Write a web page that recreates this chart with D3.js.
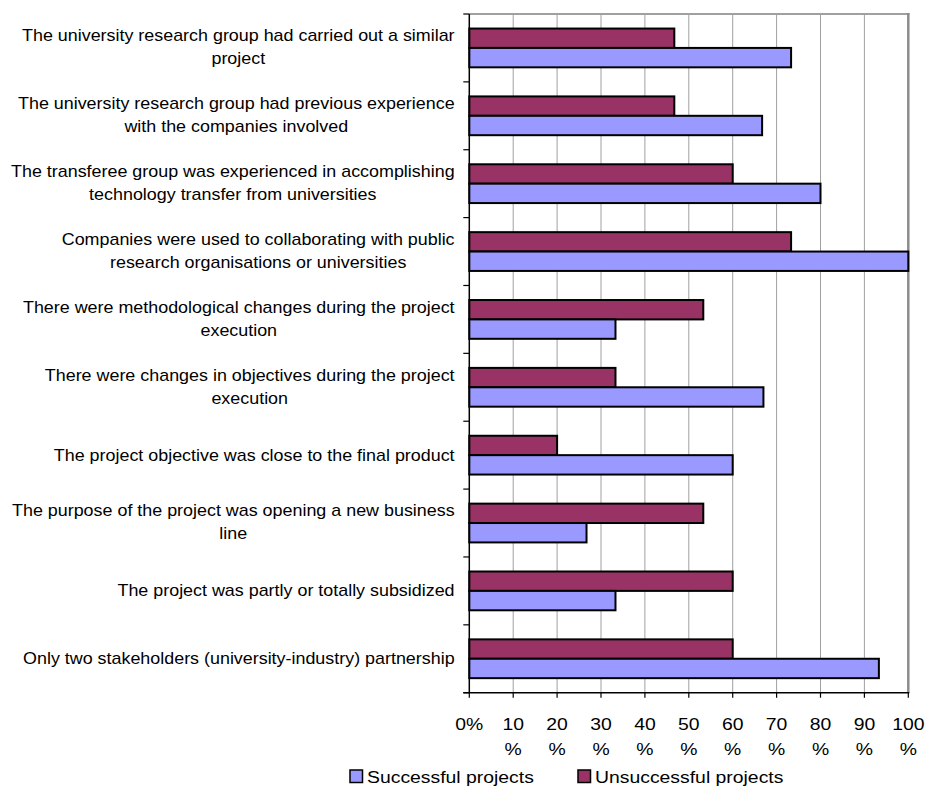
<!DOCTYPE html>
<html>
<head>
<meta charset="utf-8">
<script src="https://cdn.jsdelivr.net/npm/d3@7"></script>
<style>
  html, body { margin: 0; padding: 0; background: #ffffff; }
  svg { display: block; }
  text { font-family: "Liberation Sans", Arial, sans-serif; fill: #000; }
</style>
</head>
<body>
<svg id="chart" width="930" height="787"></svg>
<script>
// ---- data ----
const categories = [
  ["The university research group had carried out a similar", "project"],
  ["The university research group had previous experience", "with the companies involved"],
  ["The transferee group was experienced in accomplishing", "technology transfer from universities"],
  ["Companies were used to collaborating with public", "research organisations or universities"],
  ["There were methodological changes during the project", "execution"],
  ["There were changes in objectives during the project", "execution"],
  ["The project objective was close to the final product"],
  ["The purpose of the project was opening a new business", "line"],
  ["The project was partly or totally subsidized"],
  ["Only two stakeholders (university-industry) partnership"]
];
const unsuccessful = [46.7, 46.7, 60, 73.3, 53.3, 33.3, 20, 53.3, 60, 60];
const successful   = [73.3, 66.7, 80, 100, 33.3, 67, 60, 26.7, 33.3, 93.3];
const seriesNames = ["Unsuccessful projects", "Successful projects"];
const legendOrder = ["Successful projects", "Unsuccessful projects"];
const xTicks = [0, 10, 20, 30, 40, 50, 60, 70, 80, 90, 100];
const xTickLabels = [["0%"], ["10", "%"], ["20", "%"], ["30", "%"], ["40", "%"], ["50", "%"],
                     ["60", "%"], ["70", "%"], ["80", "%"], ["90", "%"], ["100", "%"]];

// ---- layout ----
const colors = { "Successful projects": "#9999ff", "Unsuccessful projects": "#993366" };
const plot = { left: 469.3, right: 908.3, top: 14, bottom: 692.7 };
const S = 1.14; // horizontal text stretch

const svg = d3.select("#chart");

const x = d3.scaleLinear().domain([0, 100]).range([plot.left, plot.right]);
const y = d3.scaleBand()
  .domain(d3.range(categories.length))
  .range([plot.top, plot.bottom])
  .paddingInner(1.5 / 3.5)
  .paddingOuter(0.75 / 3.5);
const ySub = d3.scaleBand().domain(seriesNames).range([0, y.bandwidth()]);

const rows = categories.map((c, i) => ({
  i, lines: c,
  values: [
    { name: "Unsuccessful projects", v: unsuccessful[i] },
    { name: "Successful projects", v: successful[i] }
  ]
}));

// gridlines
svg.append("g").selectAll("line")
  .data(xTicks.filter(t => t > 0 && t < 100))
  .join("line")
  .attr("x1", d => x(d)).attr("x2", d => x(d))
  .attr("y1", plot.top).attr("y2", plot.bottom)
  .attr("stroke", "#a0a0a0").attr("stroke-width", 1);

// top border & right border
svg.append("line")
  .attr("x1", plot.left).attr("x2", plot.right + 1.2)
  .attr("y1", plot.top).attr("y2", plot.top)
  .attr("stroke", "#a0a0a0").attr("stroke-width", 2);
svg.append("line")
  .attr("x1", x(100)).attr("x2", x(100))
  .attr("y1", plot.top - 1).attr("y2", plot.bottom)
  .attr("stroke", "#8c8c8c").attr("stroke-width", 2.5);

// bars
const step = y.step();
const groups = svg.append("g").selectAll("g")
  .data(rows).join("g")
  .attr("transform", d => `translate(0,${y(d.i)})`);
groups.selectAll("rect")
  .data(d => d.values).join("rect")
  .attr("x", x(0))
  .attr("y", d => ySub(d.name))
  .attr("width", d => x(d.v) - x(0))
  .attr("height", ySub.bandwidth())
  .attr("fill", d => colors[d.name])
  .attr("stroke", "#000").attr("stroke-width", 2);

// left axis line + ticks at group boundaries
svg.append("line")
  .attr("x1", plot.left).attr("x2", plot.left)
  .attr("y1", plot.top).attr("y2", plot.bottom)
  .attr("stroke", "#000").attr("stroke-width", 1.5);
svg.append("g").selectAll("line")
  .data(d3.range(categories.length + 1))
  .join("line")
  .attr("x1", plot.left - 6).attr("x2", plot.left)
  .attr("y1", i => plot.top + i * step).attr("y2", i => plot.top + i * step)
  .attr("stroke", "#000").attr("stroke-width", 1.2);

// bottom axis line + ticks
svg.append("line")
  .attr("x1", plot.left - 6).attr("x2", plot.right + 1)
  .attr("y1", plot.bottom).attr("y2", plot.bottom)
  .attr("stroke", "#000").attr("stroke-width", 1.5);
svg.append("g").selectAll("line")
  .data(xTicks).join("line")
  .attr("x1", d => x(d)).attr("x2", d => x(d))
  .attr("y1", plot.bottom).attr("y2", plot.bottom + 5)
  .attr("stroke", "#000").attr("stroke-width", 1.2);

// x tick labels
const xl = svg.append("g");
xTicks.forEach((t, i) => {
  xTickLabels[i].forEach((ln, k) => {
    xl.append("text")
      .attr("text-anchor", "middle")
      .attr("font-size", "17px")
      .attr("transform", `translate(${x(t)},${729.5 + k * 25.5}) scale(${S},1)`)
      .text(ln);
  });
});

// y category labels (block right-aligned, lines centered)
const labelRight = 454.5;
const yl = svg.append("g");
rows.forEach(r => {
  const gc = plot.top + (r.i + 0.5) * step;
  const fs = 15.7;
  const texts = r.lines.map(ln => yl.append("text")
    .attr("text-anchor", "middle")
    .attr("font-size", fs + "px")
    .text(ln));
  const widths = texts.map(t => t.node().getComputedTextLength() * S);
  const maxW = d3.max(widths);
  const cx = labelRight - maxW / 2;
  const n = r.lines.length;
  texts.forEach((t, k) => {
    const center = gc + (k - (n - 1) / 2) * 23 - (n > 1 ? 0.8 : 0);
    t.attr("transform", `translate(${cx},${center + 5.6}) scale(${S},1)`);
  });
});

// legend
const leg = svg.append("g");
const legX = [350, 578];
legendOrder.forEach((name, i) => {
  leg.append("rect")
    .attr("x", legX[i]).attr("y", 770)
    .attr("width", 12.5).attr("height", 12.5)
    .attr("fill", colors[name])
    .attr("stroke", "#000").attr("stroke-width", 1.5);
  leg.append("text")
    .attr("font-size", "17px")
    .attr("transform", `translate(${legX[i] + 17},782.5) scale(${S},1)`)
    .text(name);
});
</script>
</body>
</html>
